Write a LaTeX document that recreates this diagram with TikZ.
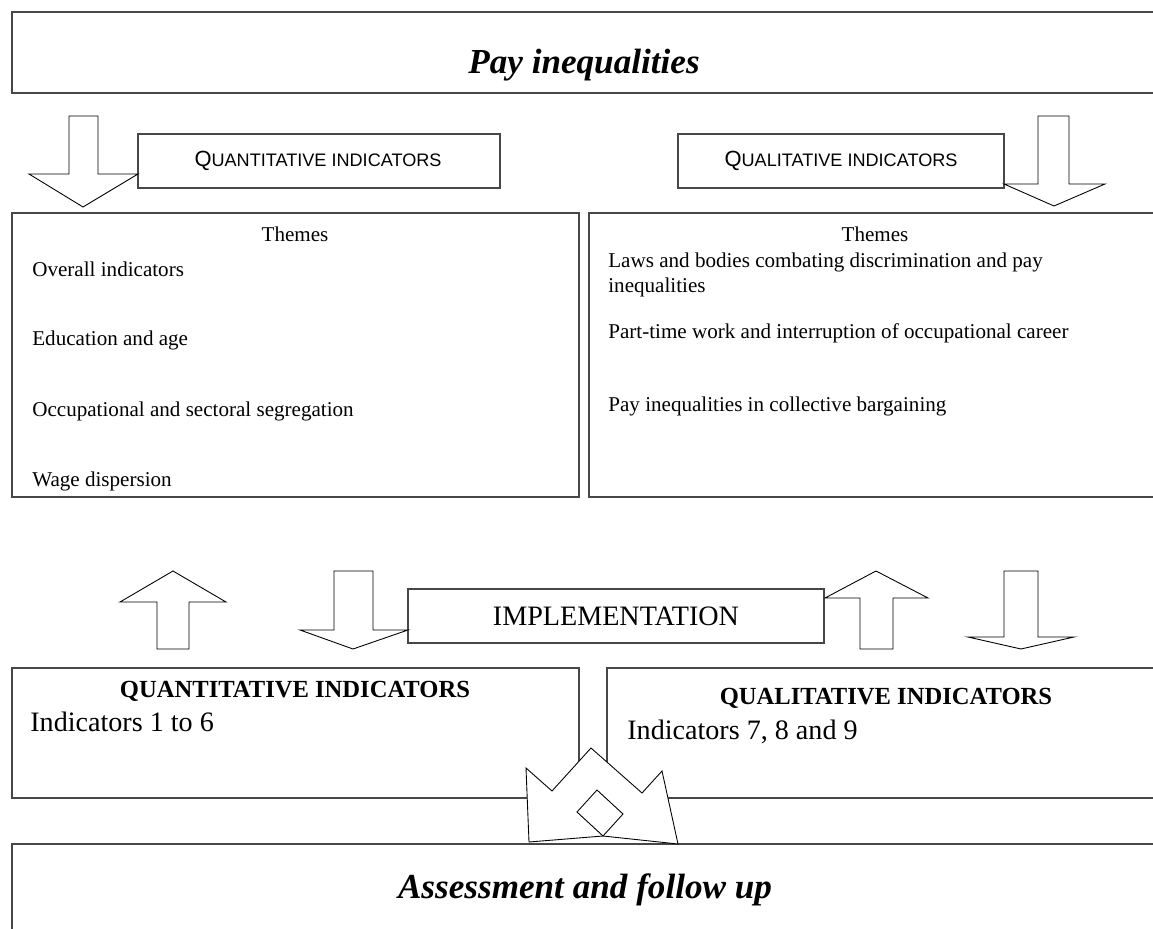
\documentclass[tikz,border=0pt]{standalone}
\usepackage{fontspec}
\setmainfont{Liberation Serif}
\setsansfont{Liberation Sans}
\usepackage{tikz}
\usetikzlibrary{calc,positioning}
\colorlet{boxline}{black!72}

% first letter large, rest in reduced capitals
\newcommand{\capslabel}[2]{{\sffamily\fontsize{12.5}{14}\selectfont #1\fontsize{10.3}{12}\selectfont #2}}

\tikzset{
  box/.style={draw=boxline, line width=0.9pt},
  blockarrow/.style={draw=black, fill=white, line width=0.5pt, line join=miter},
  body/.style={font=\fontsize{12}{14}\selectfont, inner sep=0pt},
  big/.style={font=\fontsize{16}{19}\selectfont, inner sep=0pt},
  heading/.style={font=\fontsize{20}{24}\selectfont\bfseries\itshape, inner sep=0pt},
  boldcaps/.style={font=\fontsize{14}{17}\selectfont\bfseries, inner sep=0pt}
}

\begin{document}
\begin{tikzpicture}[x=0.02cm, y=-0.02cm]
      \useasboundingbox (0,0) rectangle (1153,929);
      \clip (0,0) rectangle (1153,929);
      % Frames
      \draw[box] (12,12) rectangle (1160,93);
      \draw[box] (138,134) rectangle (500,188);
      \draw[box] (678,134) rectangle (1004,188);
      \draw[box] (12,213) rectangle (579,497);
      \draw[box] (589,213) rectangle (1161,497);
      \draw[box] (408,589) rectangle (824,643);
      \draw[box] (12,668) rectangle (579,798);
      \draw[box] (607,668) rectangle (1165,798);
      \draw[box] (12,844) rectangle (1160,940);
      % Top block arrows (down)
      \draw[blockarrow] (69,116) -- (98,116) -- (98,174) -- (138,174) -- (83,207)
        -- (29,174) -- (69,174) -- cycle;
      \draw[blockarrow] (1038,116) -- (1069,116) -- (1069,184) -- (1105,184) -- (1054,206)
        -- (1004,184) -- (1038,184) -- cycle;
      % Middle block arrows
      \draw[blockarrow] (157,649) -- (157,602) -- (120,602) -- (173,571) -- (226,602)
        -- (189,602) -- (189,649) -- cycle;
      \draw[blockarrow] (334,571) -- (373,571) -- (373,630) -- (408,630) -- (353,649)
        -- (300,630) -- (334,630) -- cycle;
      \draw[blockarrow] (860,649) -- (860,598) -- (825,598) -- (876,571) -- (928,598)
        -- (893,598) -- (893,649) -- cycle;
      \draw[blockarrow] (1004,571) -- (1038,571) -- (1038,637) -- (1074,637) -- (1021,649)
        -- (968,637) -- (1004,637) -- cycle;
      % Crown with diamond
      \draw[blockarrow] (529,842) -- (526,768) -- (552,791) -- (591,748) -- (642,793)
        -- (662,771) -- (678,844) -- (603,836) -- cycle;
      \draw[blockarrow] (597,790) -- (623,814) -- (603,836) -- (577,812) -- cycle;
      % Texts
      \node[heading, anchor=base] (pay) at (584,74) {Pay inequalities};
      \node[anchor=center, inner sep=0pt] (quantlbl) at (318,161) {\capslabel{Q}{UANTITATIVE INDICATORS}};
      \node[anchor=center, inner sep=0pt] (quallbl) at (841,161) {\capslabel{Q}{UALITATIVE INDICATORS}};
      \node[body, anchor=base] (themesL) at (295,242) {Themes};
      \node[body, anchor=base west] (overall) at (32,276) {Overall indicators};
      \node[body, anchor=base west] (educ) at (32,345) {Education and age};
      \node[body, anchor=base west] (occup) at (32,416) {Occupational and sectoral segregation};
      \node[body, anchor=base west] (wage) at (32,486) {Wage dispersion};
      \node[body, anchor=base] (themesR) at (875,242) {Themes};
      \node[body, anchor=base west] (laws) at (608,268) {Laws and bodies combating discrimination and pay};
      \node[body, anchor=base west] (laws2) at (608,293) {inequalities};
      \node[body, anchor=base west] (parttime) at (608,338) {Part-time work and interruption of occupational career};
      \node[body, anchor=base west] (bargain) at (608,411) {Pay inequalities in collective bargaining};
      \node[big, anchor=center] (impl) at (616,616) {IMPLEMENTATION};
      \node[boldcaps, anchor=base] (quanthead) at (295,697) {QUANTITATIVE INDICATORS};
      \node[big, anchor=base west] (ind16) at (30,731) {Indicators 1 to 6};
      \node[boldcaps, anchor=base] (qualhead) at (886,704) {QUALITATIVE INDICATORS};
      \node[big, anchor=base west] (ind789) at (627,739) {Indicators 7, 8 and 9};
      \node[heading, anchor=base] (assess) at (585,898) {Assessment and follow up};
    \end{tikzpicture}
\end{document}
